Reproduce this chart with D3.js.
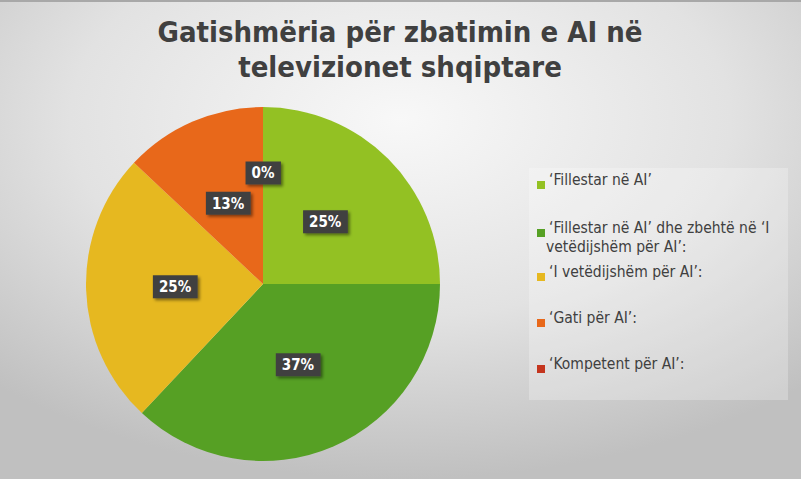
<!DOCTYPE html>
<html><head><meta charset="utf-8">
<script src="https://cdn.jsdelivr.net/npm/d3@7"></script>
<style>html,body{margin:0;padding:0;background:#fff;}svg{display:block;}</style>
</head><body>
<script>
const categories = ["‘Fillestar në AI’", "‘Fillestar në AI’ dhe zbehtë në ‘I vetëdijshëm për AI’:", "‘I vetëdijshëm për AI’:", "‘Gati për AI’:", "‘Kompetent për AI’:"];
const legendLines = [["‘Fillestar në AI’"], ["‘Fillestar në AI’ dhe zbehtë në ‘I", "vetëdijshëm për AI’:"], ["‘I vetëdijshëm për AI’:"], ["‘Gati për AI’:"], ["‘Kompetent për AI’:"]];
const values = [25, 37, 25, 13, 0];
const colors = ["#93c123", "#56a024", "#e6b820", "#e8681a", "#c4351e"];
const titleLines = ["Gatishmëria për zbatimin e AI në", "televizionet shqiptare"];

const W = 801, H = 479;
const svg = d3.select("body").append("svg").attr("width", W).attr("height", H);
const defs = svg.append("defs");
const rg = defs.append("radialGradient").attr("id","bg").attr("cx","50%").attr("cy","25%").attr("r","75%");
rg.append("stop").attr("offset","0%").attr("stop-color","#f8f8f8");
rg.append("stop").attr("offset","55%").attr("stop-color","#e2e2e2");
rg.append("stop").attr("offset","100%").attr("stop-color","#c0c0c0");
svg.append("rect").attr("width",W).attr("height",H).attr("fill","url(#bg)");
svg.append("rect").attr("width",W).attr("height",2).attr("fill","#a8a8a8");
const sh = defs.append("filter").attr("id","sh").attr("x","-30%").attr("y","-30%").attr("width","170%").attr("height","170%");
sh.append("feDropShadow").attr("dx",2).attr("dy",2).attr("stdDeviation",1.5).attr("flood-color","#000").attr("flood-opacity",0.45);

const font = "'DejaVu Sans Condensed', 'DejaVu Sans', sans-serif";
svg.append("g").selectAll("text").data(titleLines).join("text")
  .attr("x", 400).attr("y", (d,i)=>42 + i*35)
  .attr("text-anchor","middle").attr("font-family",font).attr("font-weight","bold")
  .attr("font-size",29).attr("fill","#404040").text(d=>d);

const cx = 263, cy = 284, R = 177;
const pie = d3.pie().sort(null).value(d=>d);
const arcs = pie(values);
const arc = d3.arc().innerRadius(0).outerRadius(R);
const g = svg.append("g").attr("transform",`translate(${cx},${cy})`);
g.selectAll("path").data(arcs).join("path").attr("d",arc).attr("fill",(d,i)=>colors[i]);

const fmt = d3.format(".0f");
const total = d3.sum(values);
arcs.forEach((d,i)=>{
  const lr = d.value === 0 ? 111 : 88;
  const la = (d.startAngle + d.endAngle)/2;
  const x = Math.sin(la)*lr, y = -Math.cos(la)*lr;
  const txt = fmt(d.value/total*100) + "%";
  const lg = g.append("g").attr("transform",`translate(${x},${y})`);
  const t = lg.append("text").attr("text-anchor","middle").attr("dy","0.36em")
    .attr("font-family",font).attr("font-weight","bold").attr("font-size",15).attr("fill","#fff").text(txt);
  const bb = t.node().getBBox();
  lg.insert("rect","text").attr("x",bb.x-6).attr("y",-11.5).attr("width",bb.width+12).attr("height",23)
    .attr("fill","#404040").attr("filter","url(#sh)");
});

// legend
svg.append("rect").attr("x",529).attr("y",168).attr("width",259).attr("height",232).attr("fill","#ffffff").attr("fill-opacity",0.25);
const rowY = [185, 233, 277, 323, 369];
const lgd = svg.append("g");
categories.forEach((c,i)=>{
  lgd.append("rect").attr("x",537).attr("y",rowY[i]-4).attr("width",8).attr("height",8).attr("fill",colors[i]);
  lgd.append("text").attr("x",549).attr("y",rowY[i]).attr("dy","0.36em")
    .attr("font-family",font).attr("font-size",15.5).attr("fill","#404040")
    .selectAll("tspan").data(legendLines[i]).join("tspan").attr("x",(d,j)=>j===0?549:546).attr("dy",(d,j)=>j===0?0:19).text(d=>d);
});
</script>
</body></html>
